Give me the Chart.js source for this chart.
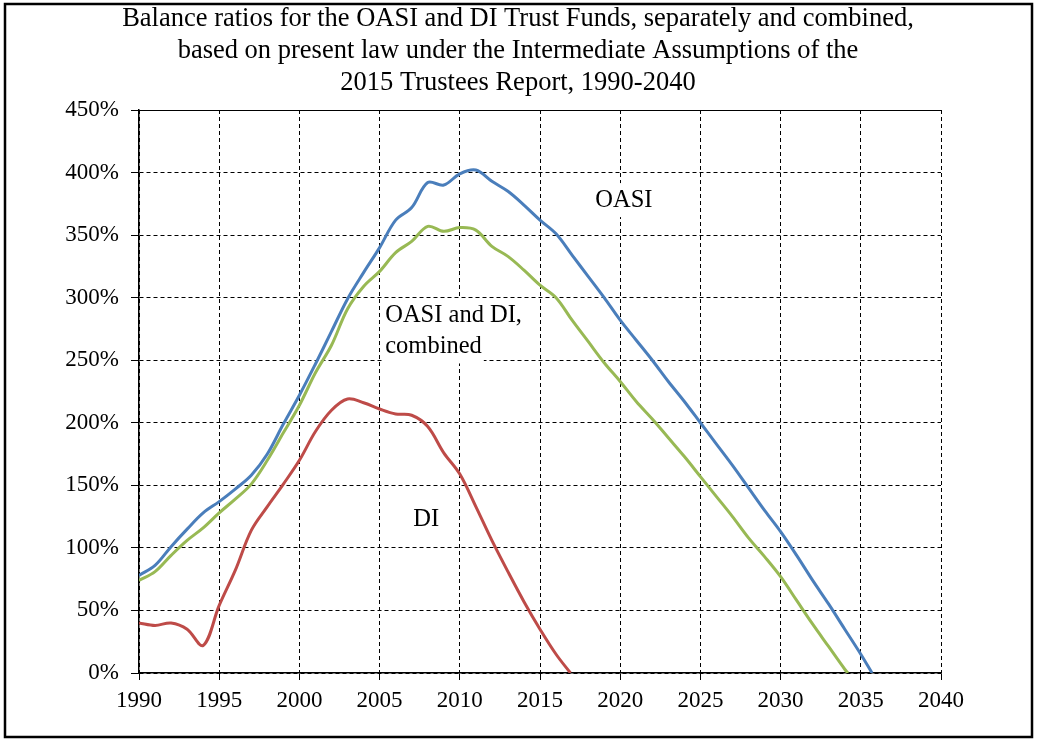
<!DOCTYPE html>
<html>
<head>
<meta charset="utf-8">
<script src="https://cdn.jsdelivr.net/npm/chart.js@4"></script>
<style>
  body { margin: 0; background: #fff; }
  #wrap { width: 1037px; height: 740px; position: relative; }
</style>
</head>
<body>
<div id="wrap"><canvas id="grafico"></canvas></div>
<script>
const startYear = 1990;

// balance ratios in percent, one value per year from 1990
const oasi = [78, 86, 101, 115, 128, 137, 147, 158, 175, 199, 222, 247, 273, 299, 320, 340,
  362, 372, 392, 390, 399, 402, 393, 385, 374, 362, 351, 334, 317, 300, 282, 266, 250, 233,
  217, 200, 183, 166, 148, 130, 113, 94, 74, 55, 35, 15];
const combinado = [74, 81, 94, 106, 116, 128, 139, 151, 170, 192, 214, 240, 262, 291, 309, 321,
  336, 345, 357, 353, 356, 354, 341, 333, 322, 310, 300, 282, 265, 248, 233, 217, 203, 188,
  173, 157, 141, 125, 108, 93, 77, 58, 39, 21, 3];
const di = [40, 38, 40, 35, 22, 54, 82, 114, 133, 151, 170, 193, 210, 219, 216, 211, 207, 206,
  197, 176, 159, 133, 106, 81, 57, 35, 15];

// year the fund reaches 0%: OASI, combined, DI
const agotamiento = [2035.7, 2034.2, 2016.9];

const titulo = [
  "Balance ratios for the OASI and DI Trust Funds, separately and combined,",
  "based on present law under the Intermediate Assumptions of the",
  "2015 Trustees Report, 1990-2040"
];

function serie(valores, fin) {
  const puntos = valores.map((v, i) => ({ x: startYear + i, y: v }));
  puntos.push({ x: fin, y: 0 });
  return puntos;
}

const fuente = "'Liberation Serif', 'Times New Roman', serif";

// text labels next to the curves, in data units
const etiquetas = [
  { texto: "OASI", x: 2018.45, y: 378 },
  { texto: "OASI and DI,", x: 2005.35, y: 286 },
  { texto: "combined", x: 2005.35, y: 261 },
  { texto: "DI", x: 2007.1, y: 123 }
];

// labels sit on a white box that hides the grid behind them
const pluginEtiquetas = {
  id: "etiquetas",
  beforeDatasetsDraw(chart) {
    const c = chart.ctx;
    const sx = chart.scales.x, sy = chart.scales.y;
    c.save();
    c.font = "24.5px " + fuente;
    c.textAlign = "left";
    c.textBaseline = "middle";
    etiquetas.forEach(e => {
      const px = sx.getPixelForValue(e.x), py = sy.getPixelForValue(e.y);
      const w = c.measureText(e.texto).width;
      c.fillStyle = "#fff";
      c.fillRect(px - 2, py - 17, w + 4, 34);
      c.fillStyle = "#000";
      c.fillText(e.texto, px, py);
    });
    c.restore();
  }
};

// title centred on the whole page plus the outer frame
const pluginMarco = {
  id: "marco",
  afterDraw(chart) {
    const c = chart.ctx;
    c.save();
    c.fillStyle = "#000";
    c.font = "26.5px " + fuente;
    c.textAlign = "center";
    c.textBaseline = "middle";
    titulo.forEach((linea, i) => c.fillText(linea, 518, 19 + i * 32));
    c.strokeStyle = "#000";
    c.lineWidth = 2.5;
    c.strokeRect(5, 4, 1027, 733);
    c.restore();
  }
};

new Chart(document.getElementById("grafico"), {
  type: "line",
  data: {
    datasets: [
      { label: "OASI", data: serie(oasi, agotamiento[0]), borderColor: "#4A7EBB" },
      { label: "OASI and DI, combined", data: serie(combinado, agotamiento[1]), borderColor: "#98B954" },
      { label: "DI", data: serie(di, agotamiento[2]), borderColor: "#BE4B48" }
    ]
  },
  options: {
    responsive: true,
    maintainAspectRatio: false,
    animation: false,
    layout: { padding: { top: 110, left: 0, right: 96, bottom: 20 } },
    elements: {
      line: { borderWidth: 3, tension: 0.35, fill: false },
      point: { radius: 0 }
    },
    plugins: {
      legend: { display: false },
      tooltip: { enabled: false },
      title: { display: false }
    },
    scales: {
      x: {
        type: "linear",
        min: 1990,
        max: 2040,
        afterFit(s) { s.height = 47; },
        ticks: {
          stepSize: 5,
          color: "#000",
          padding: 7,
          maxRotation: 0,
          font: { family: fuente, size: 23 },
          callback: v => String(v)
        },
        grid: { color: "#000", lineWidth: 1, tickLength: 7, tickColor: "#000" },
        border: { color: "#000", width: 1.5, dash: [4, 3] }
      },
      y: {
        min: 0,
        max: 450,
        afterFit(s) { s.width = 139; },
        ticks: {
          stepSize: 50,
          color: "#000",
          padding: 12,
          font: { family: fuente, size: 23 },
          callback: v => v + "%"
        },
        grid: { color: "#000", lineWidth: 1, tickLength: 8, tickColor: "#000" },
        border: {
          color: "#000",
          width: 1.5,
          dash: ctx => (ctx.tick && ctx.tick.value === 450 ? [] : [4, 3])
        }
      }
    }
  },
  plugins: [pluginEtiquetas, pluginMarco]
});
</script>
</body>
</html>
